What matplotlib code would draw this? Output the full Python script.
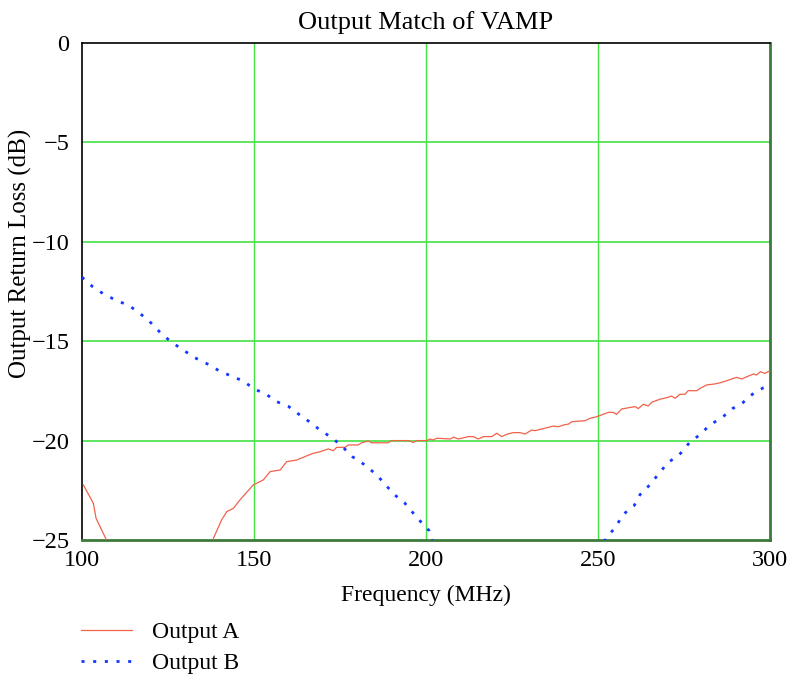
import numpy as np
import matplotlib
matplotlib.use("Agg")
import matplotlib.pyplot as plt

# Output A return loss (MHz, dB) - dips below the -25 dB floor between ~107 and ~138 MHz
freq_a = [100.4, 103.3, 104.1, 106.9, 108.5, 115.0, 122.0, 130.0, 137.2,
          138.2, 140.6, 142.1, 144.0, 145.9, 149.8, 152.7, 154.7, 157.6, 159.5,
          162.4, 165.3, 167.2, 169.2, 171.6, 173.1, 174.0, 176.5, 177.4, 180.3,
          181.3, 183.2, 184.2, 189.0, 190.0, 194.9, 196.3, 197.3, 200.2, 201.2,
          202.1, 203.1, 207.0, 208.1, 209.4, 212.3, 213.8, 215.2, 216.7, 219.1,
          220.6, 222.0, 223.5, 225.4, 227.3, 228.8, 230.7, 231.7, 233.6, 237.0,
          238.5, 239.9, 241.4, 242.4, 246.2, 247.7, 249.6, 251.5, 253.0, 254.4,
          255.4, 256.9, 258.8, 260.8, 261.7, 263.2, 264.6, 265.6, 268.0, 270.0,
          271.4, 272.4, 273.8, 275.3, 276.2, 278.7, 279.7, 281.6, 284.0, 285.5,
          287.4, 289.3, 290.3, 291.8, 293.2, 295.2, 296.1, 297.2, 298.5, 299.5,
          300.0]
loss_a = [-22.23, -23.15, -23.91, -24.92, -25.8, -28.5, -30.5, -28.0, -25.6,
          -24.92, -23.99, -23.57, -23.41, -22.99, -22.23, -21.98, -21.56, -21.48, -21.06,
          -20.98, -20.77, -20.64, -20.56, -20.42, -20.51, -20.34, -20.34, -20.22, -20.22,
          -20.11, -20.02, -20.11, -20.11, -20.00, -20.00, -20.09, -20.00, -20.00, -19.92,
          -19.97, -19.88, -19.92, -19.83, -19.92, -19.80, -19.80, -19.92, -19.80, -19.80,
          -19.63, -19.80, -19.68, -19.60, -19.60, -19.67, -19.47, -19.50, -19.42, -19.27,
          -19.30, -19.22, -19.17, -19.05, -19.00, -18.88, -18.80, -18.68, -18.58, -18.58,
          -18.68, -18.41, -18.35, -18.29, -18.39, -18.17, -18.26, -18.07, -17.92, -17.84,
          -17.76, -17.87, -17.67, -17.67, -17.49, -17.49, -17.37, -17.20, -17.15, -17.09,
          -16.99, -16.87, -16.82, -16.90, -16.79, -16.65, -16.70, -16.53, -16.62, -16.53,
          -16.50]

# Output B return loss (MHz, dB) - below the floor between ~202 and ~251 MHz
freq_b = [100.0, 103.1, 106.6, 110.2, 113.7, 116.6, 119.5, 122.9, 125.9, 129.3,
          132.8, 136.3, 139.8, 143.2, 146.7, 150.1, 153.7, 156.6, 160.1, 163.6,
          166.5, 169.4, 172.9, 176.3, 178.6, 182.1, 185.7, 188.2, 190.8, 193.7,
          195.7, 198.1, 200.9, 203.0, 215.0, 230.0, 245.0, 251.0, 252.3, 255.2,
          257.2, 260.5, 262.2, 265.1, 267.4, 270.3, 273.6, 276.5, 279.6, 282.6,
          286.0, 289.0, 292.1, 295.2, 298.1, 300.0]
loss_b = [-11.78, -12.26, -12.66, -12.96, -13.21, -13.57, -13.98, -14.59, -15.03, -15.43,
          -15.83, -16.13, -16.48, -16.74, -16.99, -17.40, -17.69, -18.04, -18.29, -18.75,
          -19.10, -19.50, -19.88, -20.41, -20.81, -21.21, -21.73, -22.22, -22.72, -23.12,
          -23.53, -24.01, -24.53, -25.6, -31.0, -35.0, -29.0, -25.4, -24.92, -24.33,
          -23.73, -23.27, -22.72, -22.22, -21.72, -21.11, -20.72, -20.12, -19.70, -19.20,
          -18.85, -18.40, -18.09, -17.62, -17.34, -17.22]

x_ticks = [100, 150, 200, 250, 300]
y_ticks = [0, -5, -10, -15, -20, -25]

plt.rcParams['font.family'] = ['Liberation Serif', 'DejaVu Serif']
plt.rcParams['axes.unicode_minus'] = True

fig = plt.figure(figsize=(7.95, 6.83), dpi=100)
ax = fig.add_axes([0.1031, 0.2094, 0.8655, 0.7276])

grid_green = '#44e244'
for xv in x_ticks[1:-1]:
    ax.axvline(xv, color=grid_green, lw=1.0, zorder=1)
for yv in y_ticks[1:-1]:
    ax.axhline(yv, color=grid_green, lw=1.2, zorder=1)

ax.plot(freq_a, loss_a, color='#f0624a', lw=0.9, label='Output A', zorder=3)
ax.plot(freq_b, loss_b, color='#1438ff', lw=2.0, linestyle=(0, (1.1, 3.1)),
        label='Output B', zorder=3)

ax.set_xlim(100, 300)
ax.set_ylim(-25, 0)
ax.set_xticks(x_ticks)
ax.set_yticks(y_ticks)
ax.tick_params(length=0, labelsize=17.5)
ax.tick_params(axis='x', pad=7)
ax.tick_params(axis='y', pad=9)

for side in ['left', 'top']:
    ax.spines[side].set_color('black')
    ax.spines[side].set_linewidth(1.2)
for side in ['right', 'bottom']:
    ax.spines[side].set_color('#3b7a3b')
    ax.spines[side].set_linewidth(2.0)

ax.set_title('Output Match of VAMP', fontsize=19, pad=10)
ax.set_xlabel('Frequency (MHz)', fontsize=17, labelpad=10)
ax.set_ylabel('Output Return Loss (dB)', fontsize=18)
ax.yaxis.set_label_coords(-0.072, 0.576)

fig.legend(loc='upper left', bbox_to_anchor=(0.090, 0.104), frameon=False,
           fontsize=17, handlelength=2.16, handletextpad=0.85, labelspacing=0.41,
           borderaxespad=0)

fig.savefig('out.png', dpi=100)
